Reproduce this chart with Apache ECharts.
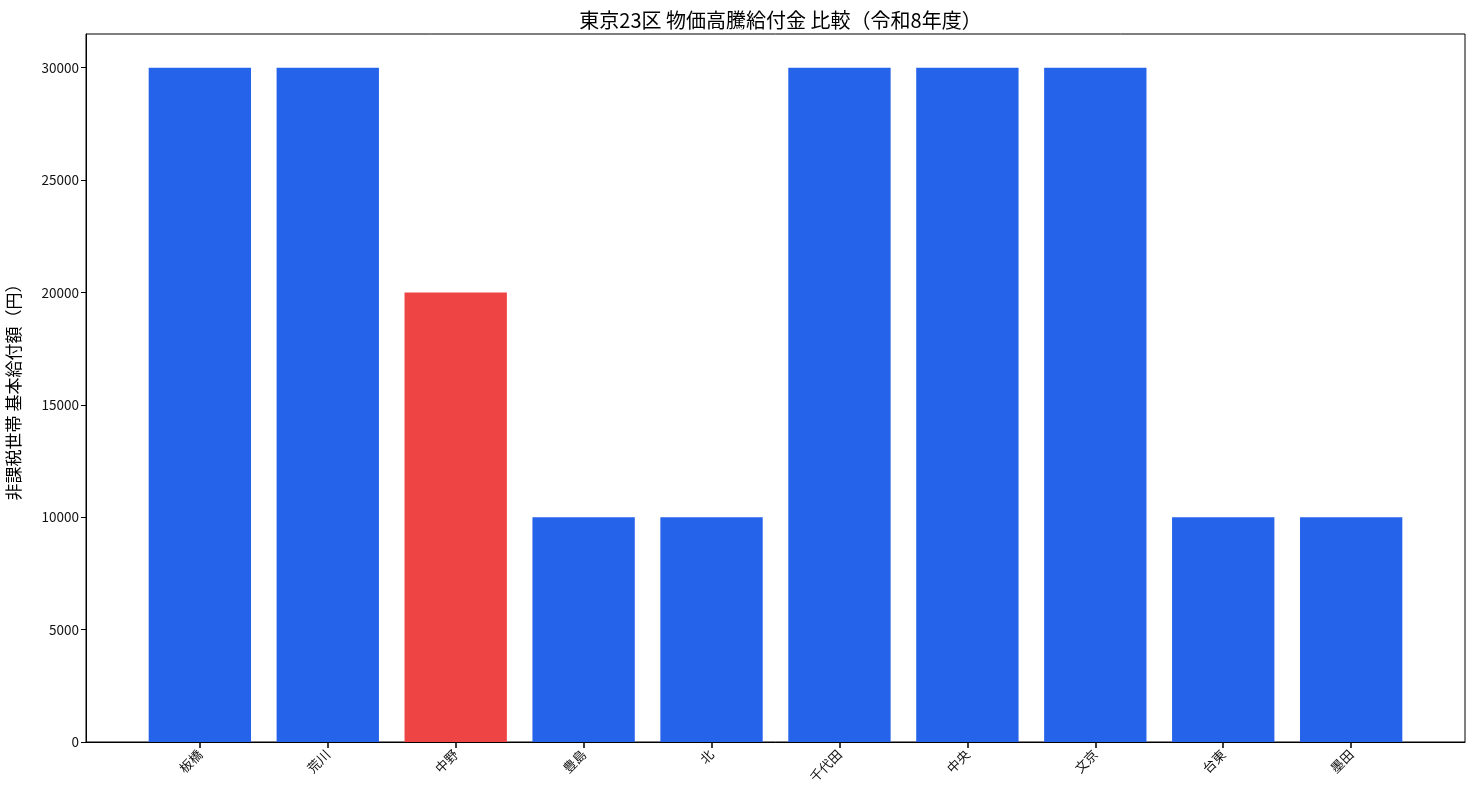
<!DOCTYPE html>
<html lang="ja">
<head>
    <meta charset="UTF-8">
    <title>東京23区 物価高騰給付金 比較</title>
    <script src="https://cdn.jsdelivr.net/npm/echarts@6/dist/echarts.min.js"></script>
    <style>
        html, body { margin: 0; padding: 0; background: #fff; }
        #main { width: 1475px; height: 800px; }
    </style>
</head>
<body>
<div id="main"></div>
<script>
    // 区名と給付額
    var wards = ['板橋', '荒川', '中野', '豊島', '北', '千代田', '中央', '文京', '台東', '墨田'];
    var amounts = [30000, 30000, 20000, 10000, 10000, 30000, 30000, 30000, 10000, 10000];
    var highlightWard = '中野';
    var yTicks = [0, 5000, 10000, 15000, 20000, 25000, 30000];

    var FONT = '"Noto Sans CJK JP", sans-serif';
    var BLUE = '#2563eb', RED = '#ef4444';

    // matplotlib 風の余白: 枠の x 範囲は -0.89..9.89、棒は各カテゴリ帯 (-0.5..9.5) に配置
    var plotL = 86, plotR = 1465, plotT = 34, plotB = 742;
    var xMin = -0.89, xMax = 9.89;
    var unit = (plotR - plotL) / (xMax - xMin);
    var barL = plotL + (-0.5 - xMin) * unit;
    var barR = plotR - (xMax - 9.5) * unit;

    var myChart = echarts.init(document.getElementById('main'));
    var option = {
        animation: false,
        textStyle: { fontFamily: FONT },
        title: {
            text: '東京23区 物価高騰給付金 比較（令和8年度）',
            left: (plotL + plotR) / 2,
            textAlign: 'center',
            top: 5,
            textStyle: { fontFamily: FONT, fontSize: 20, fontWeight: 'normal', color: '#000' }
        },
        grid: [
            {   // 枠と軸
                left: plotL, right: 1475 - plotR, top: plotT, bottom: 800 - plotB,
                outerBoundsMode: 'none',
                show: true, borderColor: '#000', borderWidth: 1, backgroundColor: 'transparent'
            },
            {   // 棒
                left: barL, right: 1475 - barR, top: plotT, bottom: 800 - plotB,
                outerBoundsMode: 'none'
            }
        ],
        xAxis: [
            {
                gridIndex: 0, type: 'value', min: xMin, max: xMax,
                axisLine: { show: true, onZero: false, lineStyle: { color: '#000', width: 1 } },
                axisTick: { show: false },
                axisLabel: { show: false },
                splitLine: { show: false }
            },
            {
                gridIndex: 1, type: 'category', data: wards,
                axisLine: { show: true, onZero: false, lineStyle: { color: '#000', width: 1 } },
                axisTick: { show: true, alignWithLabel: true, length: 6, lineStyle: { color: '#000', width: 1.5 } },
                axisLabel: {
                    rotate: 45, fontSize: 13, color: '#111', margin: 10, fontFamily: FONT
                }
            }
        ],
        yAxis: [
            {
                gridIndex: 0, type: 'value', min: 0, max: 31500, interval: 5000,
                name: '非課税世帯 基本給付額（円）',
                nameLocation: 'middle', nameGap: 64,
                nameTextStyle: { fontSize: 17, color: '#000', fontFamily: FONT },
                axisLine: { show: true, onZero: false, lineStyle: { color: '#000', width: 1 } },
                axisTick: { show: true, length: 5, customValues: yTicks, lineStyle: { color: '#000' } },
                axisLabel: {
                    fontSize: 13.5, color: '#111', margin: 7, fontFamily: FONT,
                    customValues: yTicks,
                    formatter: function (v) { return String(v); }
                },
                splitLine: { show: false }
            },
            {
                gridIndex: 1, type: 'value', min: 0, max: 31500, interval: 5000,
                axisLine: { show: false }, axisTick: { show: false },
                axisLabel: { show: false }, splitLine: { show: false }
            }
        ],
        series: [
            {
                type: 'bar',
                xAxisIndex: 1, yAxisIndex: 1,
                barCategoryGap: '20%',
                data: amounts.map(function (v, i) {
                    return { value: v, itemStyle: { color: wards[i] === highlightWard ? RED : BLUE } };
                })
            }
        ]
    };
    myChart.setOption(option);
</script>
</body>
</html>
